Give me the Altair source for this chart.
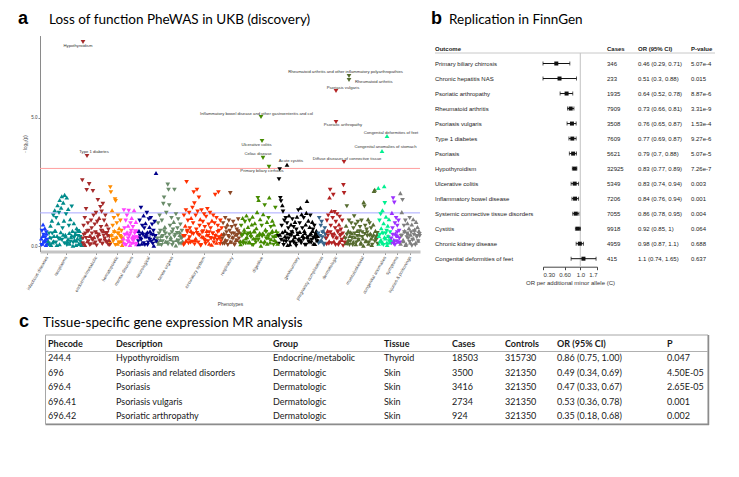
import altair as alt
import pandas as pd

W, H = 723, 461

# ---------------- panel a : PheWAS manhattan ----------------
categories = ["infectious diseases", "neoplasms", "endocrine/metabolic", "hematopoietic",
              "mental disorders", "neurological", "sense organs", "circulatory system",
              "respiratory", "digestive", "genitourinary", "pregnancy complications",
              "dermatologic", "musculoskeletal", "congenital anomalies", "symptoms",
              "injuries & poisonings"]
cat_colors = ["#1a3cff", "#008b8b", "#a52a2a", "#ff8c00", "#ff40ff", "#00008b", "#698b69",
              "#ff3000", "#8b4726", "#458b00", "#000000", "#36648b", "#b22222", "#556b2f",
              "#00f090", "#9b30ff", "#7f7f7f"]
# phenotype index range of each category and position of its axis label
cat_start = [1, 8, 42, 70, 83, 98, 117, 143, 182, 200, 238, 278, 286, 305, 338, 351, 360]
cat_end = [8, 42, 70, 83, 98, 117, 143, 182, 200, 238, 278, 286, 305, 338, 351, 360, 380]
cat_tick = [7, 26, 56, 77, 92, 109, 132, 164, 192, 222, 258, 282, 296, 323, 345, 357, 370]

# -log10(p) of each phenotype in index order; u = OR>1 (triangle up), d = OR<1 (down)
cat_points = [
    "0.30u 0.60d 0.10u 0.85u 0.45d 0.20u 0.70u 0.35d 0.05u 0.50u 0.25d 0.15u",
    "0.20u 0.50d 0.10u 0.80u 0.30d 1.00u 0.15u 1.20d 0.40u 1.40u 0.60u 1.10d 0.05u 1.60u 0.90u 1.30d "
    "1.80u 0.30u 1.50u 1.95u 0.70d 1.70u 1.00u 2.00u 0.45u 1.25d 1.90u 0.20u 1.45u 0.80d 0.10u 1.05u "
    "0.35u 1.55d 0.60u 0.15d 0.90u 0.25u 0.50d 0.05u 0.70u 0.30u 0.40d 0.10u 0.60u 0.20d 0.35u 0.05u",
    "2.57d 0.30d 0.80d 0.10u 1.10d 0.50d 1.45d 2.19d 0.20u 0.90d 0.60d 2.42d 0.05d 0.40u 1.00d 0.70d "
    "0.25d 2.15d 1.20d 0.35u 0.85d 0.15d 1.30d 0.55u 0.95d 1.80d 0.45d 1.10u 0.20d 1.53d 0.75d 1.35d "
    "0.10d 1.65d 0.60u 1.00d 0.30d 1.20d 0.50d 0.85u 0.15d 0.40d 0.65d 0.25u 0.05d",
    "2.30d 2.10d 0.40d 1.40u 0.80d 0.20d 1.10d 0.60u 1.83d 1.76d 0.30d 0.90d 0.10u 1.20d 0.50d 0.70u "
    "0.15d 1.00d 0.35d 0.60d 0.05u 0.25d",
    "0.30u 1.40d 0.70d 0.10u 1.00d 0.50u 1.20d 0.20d 0.80u 1.38d 0.40d 0.05u 0.90d 0.60d 1.10u 0.25d "
    "0.75d 0.15u 1.40u 0.50d 0.35d 0.95u 0.10d 0.60u 0.30d",
    "0.20d 0.60u 1.00d 0.30d 1.50d 0.10u 0.80d 0.45d 1.20u 0.70d 0.05d 0.90u 0.35d 1.30d 0.55u 0.15d "
    "1.05d 0.75u 0.25d 1.10d 0.50u 0.85d 0.10d 0.60d 0.30u 0.95d 0.40d 2.85u 0.20d",
    "0.30d 0.90d 0.10u 1.20d 0.60d 0.40u 1.00d 0.20d 1.65d 1.90d 0.75u 0.50d 1.30d 0.15d 2.40d 2.20d "
    "1.60d 0.80d 0.35u 1.10d 0.05d 0.65d 0.95u 2.20d 0.45d 1.25d 0.25u 0.70d 1.05d 0.10d 0.55u 0.85d "
    "0.30d 0.60d 0.20u",
    "0.40d 1.20d 0.10d 0.80u 1.40d 2.50d 0.60d 1.00d 0.30u 1.30d 0.70d 0.15d 1.10u 0.50d 1.50d 0.90d "
    "2.10d 1.67d 0.25u 1.20d 0.65d 2.20d 1.35d 0.45d 1.90d 0.80d 1.05u 0.05d 1.40d 0.55d 0.95d 0.35u "
    "1.25d 0.75d 0.20d 1.15d 0.60u 1.45d 0.40d 0.85d 0.10u 1.30d 0.70d 0.30d 1.00u 0.50d 1.20d 0.15d "
    "0.90d 2.00d 0.45u 1.10d 0.25d 0.80d 2.10d 0.60d 0.35u 1.00d 0.20d 0.70d",
    "0.30d 0.90d 0.50u 0.10d 1.10d 0.70d 0.20d 0.85u 0.40d 1.00d 0.60d 2.07d 0.15d 0.75d 0.35u 0.95d "
    "0.50d 0.05d 0.80d 0.25u 0.65d 0.45d 1.05d 0.30d 0.55u",
    "0.20u 0.80d 0.50u 1.10u 0.10d 0.65u 0.95d 0.30u 1.20u 0.45d 0.75u 0.15u 1.00d 0.55u 0.35d 0.85u "
    "1.15u 0.05d 0.60u 0.90u 0.25d 0.70u 1.33u 1.88d 1.80u 0.40d 1.05u 0.20u 0.80d 0.50u 1.25u 0.10d "
    "1.60d 0.65u 0.30d 0.95u 0.45u 1.10d 1.90u 0.15u 0.75d 0.55u 1.00u 0.35d 0.85u 0.25u 1.50d 0.60u "
    "0.40d 0.10u",
    "0.40d 2.61d 3.00d 1.88d 1.75d 0.80d 1.60u 1.35d 0.20d 1.00d 0.60u 1.10d 0.30d 0.90d 0.05u 0.70d "
    "1.20u 0.45d 0.15d 0.85u 0.55d 1.05d 0.25u 0.75d 0.35d 0.95u 0.10d 0.65d 1.15u 0.50d 1.40d 0.30u "
    "0.90d 1.50u 0.20d 1.25u 0.70d 0.40u 1.10d 0.60u 0.05d 0.85u 1.30u 1.76u 0.35d 1.00u 0.15d 0.75u "
    "1.20d 0.50u 0.25d 0.95u 0.65d 0.10u 0.80d 0.45u 0.30d 0.60u 0.20d 0.40u",
    "0.50d 1.10d 0.20u 0.80d 0.95d 0.35d 0.60u 0.10d 0.70d 0.30d",
    "0.30d 1.00d 0.60u 1.20d 0.10d 1.90u 2.20d 0.80d 1.37u 0.45d 1.10d 2.00d 0.20u 1.33d 0.70d 0.95d "
    "0.35u 1.25d 0.55d 0.05d 0.85u 1.15d 0.40d 0.65d 0.25u 1.00d 0.50d 2.38d 2.07d 0.15d",
    "0.30d 0.80u 1.56d 0.10d 0.60u 1.00d 0.40u 0.20d 0.90d 0.50u 0.05d 0.70d 1.17d 0.35u 0.85d 0.15d "
    "0.60u 0.95d 0.25d 0.45u 0.75d 0.10u 1.00d 0.55d 0.30u 1.72u 1.55d 0.80d 0.20u 0.65d 0.40d 1.05u "
    "0.15d 0.90d 0.50u 0.70d 0.05u 0.35d 0.85u 2.15u 2.20u 0.60u 0.25d 0.45u 0.10d",
    "2.27u 0.40u 1.00d 0.20u 1.25d 0.70u 0.10d 1.40u 0.50d 0.90u 2.34u 1.68d 0.30u 1.15u 0.60d 0.05u "
    "0.80u 0.35d 1.05u 0.15u 0.55d 0.25u",
    "0.30d 1.30u 0.70d 1.87d 0.10d 1.70d 0.90d 0.50u 1.10d 0.20d 0.80d 0.40u 1.00d 0.60d 0.15d",
    "2.07u 0.40d 1.33u 1.80d 0.20u 0.80d 0.60u 1.00d 0.10u 0.50d 0.90u 0.30d 0.70u 1.10d 0.15u 0.55d "
    "0.85u 0.25d 1.05u 0.45d 0.65u 0.05d 0.95u 0.35d 0.75u 0.20d 0.60u 0.40d",
]

# the many weakly associated phenotypes at the bottom of every category
cat_carpet = [
    "0.05d 0.40u 0.15d 0.25u 0.55d 0.10u",
    "0.10d 0.35u 0.05u 0.50d 0.20u 0.60u 0.15d 0.40u 0.30d 0.08u 0.55u 0.25d 0.45u 0.12d 0.38u 0.05d "
    "0.28u 0.52u 0.18d 0.42u 0.02u 0.33d 0.48u 0.22u 0.58d 0.10u 0.36d 0.15u",
    "0.12d 0.45d 0.05u 0.32d 0.58d 0.20d 0.40u 0.08d 0.50d 0.28d 0.15u 0.55d 0.03d 0.35d 0.48u 0.22d "
    "0.60d 0.10d 0.42d 0.30u 0.18d 0.52d 0.06d 0.38d",
    "0.10d 0.45u 0.25d 0.55d 0.05d 0.35u 0.50d 0.15d 0.40d 0.20u 0.30d",
    "0.15u 0.45d 0.05d 0.55u 0.30d 0.20u 0.50d 0.10d 0.40u 0.25d 0.58d 0.08u 0.35d",
    "0.08u 0.42d 0.25d 0.55u 0.12d 0.35d 0.50u 0.05d 0.30d 0.58u 0.18d 0.45d 0.02u 0.38d 0.22u",
    "0.12d 0.50d 0.25u 0.05d 0.40d 0.58d 0.18u 0.33d 0.08d 0.46d 0.28u 0.55d 0.15d 0.38d 0.03u 0.52d "
    "0.22d 0.44u 0.10d 0.35d",
    "0.05d 0.40d 0.22u 0.55d 0.12d 0.35d 0.60u 0.18d 0.48d 0.08d 0.30u 0.52d 0.15d 0.42d 0.02d 0.38u "
    "0.58d 0.25d 0.10d 0.45u 0.20d 0.55d 0.32d 0.06u 0.50d 0.28d 0.40d 0.14u 0.56d 0.35d 0.09d 0.46u",
    "0.10d 0.42d 0.25u 0.55d 0.05d 0.35d 0.18u 0.50d 0.30d 0.08d 0.45u 0.22d 0.58d 0.15d",
    "0.08u 0.40d 0.22u 0.55u 0.12d 0.35u 0.50d 0.18u 0.45u 0.05d 0.30u 0.58u 0.15d 0.42u 0.25d 0.52u "
    "0.02u 0.38d 0.48u 0.20u 0.56d 0.10u 0.33u 0.46d 0.28u 0.60u 0.06d 0.40u 0.18u 0.50d",
    "0.10d 0.45u 0.25d 0.55u 0.05d 0.38u 0.18d 0.50u 0.30d 0.08u 0.42d 0.58u 0.15d 0.35u 0.02d 0.48u "
    "0.22d 0.56u 0.12d 0.40u 0.28d 0.52u 0.06d 0.36u 0.20d 0.46u 0.14d 0.60u 0.32d 0.09u 0.44d 0.24u",
    "0.12d 0.40d 0.25u 0.55d 0.05d 0.45d",
    "0.08d 0.42d 0.20u 0.55d 0.12d 0.35d 0.50u 0.05d 0.30d 0.58d 0.18u 0.45d 0.25d 0.02d 0.38u",
    "0.12u 0.45d 0.25u 0.05d 0.55u 0.32d 0.18u 0.50d 0.08u 0.40d 0.28u 0.58d 0.15u 0.36d 0.02u 0.48d "
    "0.22u 0.54d 0.10u 0.42d 0.30u 0.06d 0.46u 0.20d 0.38u 0.52d",
    "0.10u 0.45d 0.25u 0.55u 0.05d 0.35u 0.50d 0.15u 0.40u 0.20d 0.30u",
    "0.12d 0.45d 0.25u 0.05d 0.38d 0.55d 0.18u 0.30d",
    "0.10u 0.42d 0.25u 0.55d 0.05u 0.35d 0.50u 0.18d 0.45u 0.02d 0.30u 0.58d 0.14u 0.40d 0.22u 0.48d",
]

hit_names = ["Hypothyroidism", "Type 1 diabetes",
             "Inflammatory bowel disease and other gastroenteritis and col",
             "Ulcerative colitis", "Celiac disease", "Primary biliary cirrhosis", "Acute cystitis",
             "Psoriasis vulgaris", "Psoriatic arthropathy", "Diffuse diseases of connective tissue",
             "Rheumatoid arthritis and other inflammatory polyarthropathies", "Rheumatoid arthritis",
             "Congenital deformities of feet", "Congenital anomalies of stomach"]
hit_cat = ["endocrine/metabolic", "endocrine/metabolic", "digestive", "digestive", "digestive",
           "digestive", "genitourinary", "dermatologic", "dermatologic", "dermatologic",
           "musculoskeletal", "musculoskeletal", "congenital anomalies", "congenital anomalies"]
hit_pos = [43, 47, 221, 222, 223, 229, 247, 296, 296, 304, 309, 309, 347, 342]
hit_logp = [7.95, 3.51, 5.03, 4.10, 3.44, 3.09, 3.17, 6.04, 4.84, 3.28, 6.63, 6.47, 4.29, 3.71]
hit_dir = ["d", "d", "d", "d", "d", "d", "u", "d", "d", "d", "d", "d", "u", "u"]

bonferroni_line = 3.03
nominal_line = 1.30

# label placement (dx, dy in px, align)
label_style = {
    "Hypothyroidism": (-5, 4, "center"),
    "Type 1 diabetes": (7, -4, "center"),
    "Inflammatory bowel disease and other gastroenteritis and col": (-4.5, -3.5, "center"),
    "Ulcerative colitis": (-5.5, 4, "center"),
    "Celiac disease": (-5, -3.5, "center"),
    "Primary biliary cirrhosis": (-7, 4, "center"),
    "Acute cystitis": (4, -3.5, "center"),
    "Psoriasis vulgaris": (7, -3.5, "center"),
    "Psoriatic arthropathy": (7, 3.5, "center"),
    "Diffuse diseases of connective tissue": (3, -3.5, "center"),
    "Rheumatoid arthritis and other inflammatory polyarthropathies": (-3.5, -3.5, "center"),
    "Rheumatoid arthritis": (6, 1.5, "left"),
    "Congenital deformities of feet": (4, -3.5, "center"),
    "Congenital anomalies of stomach": (3.5, -3.5, "center"),
}

rows = []
for series in (cat_carpet, cat_points):
    for cat, lo, hi, s in zip(categories, cat_start, cat_end, series):
        toks = s.split()
        n = len(toks)
        for i, t in enumerate(toks):
            rows.append({"pos": lo + (i + 0.5) * (hi - lo) / n, "logp": float(t[:-1]),
                         "dir": t[-1], "cat": cat, "name": ""})
for nm, c, p, lp, d in zip(hit_names, hit_cat, hit_pos, hit_logp, hit_dir):
    rows.append({"pos": p, "logp": lp, "dir": d, "cat": c, "name": nm})
man_df = pd.DataFrame(rows)

tick_lookup = "{" + ",".join(f"'{v}':'{c}'" for v, c in zip(cat_tick, categories)) + "}"

man_x = alt.X("pos:Q",
              scale=alt.Scale(domain=[0, 380], range=[32, 412], nice=False, zero=False),
              axis=alt.Axis(values=cat_tick, labelExpr=tick_lookup + "[''+datum.value]",
                            orient="bottom", offset=243.5 - H, domainColor="#c4c4c4",
                            domainWidth=3, tickColor="#999999", tickSize=3, labelAngle=-60,
                            labelAlign="right", labelBaseline="middle", labelFontSize=4.5,
                            labelFont="Liberation Sans", labelColor="#444444", labelPadding=2,
                            labelOverlap=False, grid=False, title="Phenotypes",
                            titleFontSize=4.8, titleFontWeight="normal",
                            titleFont="Liberation Sans", titleColor="#444444", titleY=50))
man_y = alt.Y("logp:Q",
              scale=alt.Scale(domain=[-0.2, 8.2], range=[243.44, 27.56], nice=False, zero=False),
              axis=alt.Axis(values=[0, 5], orient="left", offset=-32, domainColor="#8a8a8a",
                            tickColor="#8a8a8a", tickSize=2, labelFontSize=4.5,
                            labelFont="Liberation Sans", labelColor="#444444", labelPadding=1,
                            grid=False, title="- log\u2081\u2080(p)", titleFontSize=4.5,
                            titleFontWeight="normal", titleFont="Liberation Sans",
                            titleColor="#444444", titlePadding=3))

base_a = alt.Chart(man_df)
thr_df = pd.DataFrame({"thr": [bonferroni_line, nominal_line]})
rule_bonf = alt.Chart(thr_df).transform_filter(alt.datum.thr > 2).mark_rule(
    color="#ff9e9e", strokeWidth=1).encode(
    y=alt.Y("thr:Q"), x=alt.datum(0), x2=alt.datum(380))
rule_nom = alt.Chart(thr_df).transform_filter(alt.datum.thr < 2).mark_rule(
    color="#a8a8ff", strokeWidth=1).encode(
    y=alt.Y("thr:Q"), x=alt.datum(0), x2=alt.datum(380))

points = base_a.mark_point(filled=True, size=22, opacity=1, strokeWidth=0).encode(
    x=man_x, y=man_y,
    color=alt.Color("cat:N", scale=alt.Scale(domain=categories, range=cat_colors), legend=None),
    shape=alt.Shape("dir:N", scale=alt.Scale(domain=["u", "d"],
                                             range=["triangle-up", "triangle-down"]), legend=None),
)

label_layers = []
for nm in hit_names:
    dx, dy, al = label_style[nm]
    label_layers.append(
        base_a.transform_filter(alt.datum.name == nm).mark_text(
            dx=dx, dy=dy, align=al, baseline="middle", fontSize=4.2,
            font="Liberation Sans", color="#333333").encode(
            x=alt.X("pos:Q"), y=alt.Y("logp:Q"), text="name:N"))

group_a = alt.layer(rule_nom, rule_bonf, points, *label_layers)

# ---------------- panel b : FinnGen forest plot ----------------
outcomes = ["Primary biliary chirrosis", "Chronic hepatitis NAS", "Psoriatic arthropathy",
            "Rheumatoid arthritis", "Psoriasis vulgaris", "Type 1 diabetes", "Psoriasis",
            "Hypothyroidism", "Ulcerative colitis", "Inflammatory bowel disease",
            "Systemic connective tissue disorders", "Cystitis", "Chronic kidney disease",
            "Congenital deformities of feet"]
fg_cases = ["346", "233", "1935", "7909", "3508", "7609", "5621", "32925", "5349", "7206",
            "7055", "9918", "4959", "415"]
fg_or = [0.46, 0.51, 0.64, 0.73, 0.76, 0.77, 0.79, 0.83, 0.83, 0.84, 0.86, 0.92, 0.98, 1.1]
fg_lo = [0.29, 0.3, 0.52, 0.66, 0.65, 0.69, 0.7, 0.77, 0.74, 0.76, 0.78, 0.85, 0.87, 0.74]
fg_hi = [0.71, 0.88, 0.78, 0.81, 0.87, 0.87, 0.88, 0.89, 0.94, 0.94, 0.95, 1.0, 1.1, 1.65]
fg_or_txt = ["0.46 (0.29, 0.71)", "0.51 (0.3, 0.88)", "0.64 (0.52, 0.78)", "0.73 (0.66, 0.81)",
             "0.76 (0.65, 0.87)", "0.77 (0.69, 0.87)", "0.79 (0.7, 0.88)", "0.83 (0.77, 0.89)",
             "0.83 (0.74, 0.94)", "0.84 (0.76, 0.94)", "0.86 (0.78, 0.95)", "0.92 (0.85, 1)",
             "0.98 (0.87, 1.1)", "1.1 (0.74, 1.65)"]
fg_p = ["5.07e-4", "0.015", "8.87e-6", "3.31e-9", "1.53e-4", "9.27e-6", "5.07e-5", "7.26e-7",
        "0.003", "0.001", "0.004", "0.064", "0.688", "0.637"]
fg_headers = ["Outcome", "Cases", "OR (95% CI)", "P-value"]
or_ticks = [0.3, 0.6, 1.0, 1.7]
or_tick_labels = ["0.30", "0.60", "1.0", "1.7"]

HDR = "__header__"
fg_df = pd.DataFrame({"outcome": outcomes, "cases": fg_cases, "or": fg_or, "lo": fg_lo,
                      "hi": fg_hi, "or_txt": fg_or_txt, "p": fg_p})
hdr_df = pd.DataFrame({"outcome": [HDR] * 4, "col": fg_headers})

fy = alt.Y("outcome:N", scale=alt.Scale(type="point", domain=[HDR] + outcomes,
                                        range=[40.5, 250.7], padding=0), axis=None)
fx_scale = alt.Scale(type="log", domain=[0.3, 1.7], range=[535, 589], nice=False, clamp=True)
fx_axis = alt.Axis(values=or_ticks,
                   labelExpr=str(or_tick_labels) + "[indexof(" + str(or_ticks) + ", datum.value)]",
                   orient="bottom", offset=258.7 - H, domainColor="#444444",
                   tickColor="#444444", tickSize=3, labelFontSize=6, labelFont="Liberation Sans",
                   labelColor="#333333", labelPadding=2, grid=False,
                   title="OR per additional minor allele (C)", titleFontSize=6,
                   titleFontWeight="normal", titleFont="Liberation Sans", titleColor="#333333",
                   titlePadding=2)

base_b = alt.Chart(fg_df)
ref_line = base_b.mark_rule(color="#cfcfcf", strokeWidth=1).encode(
    x=alt.datum(1, scale=fx_scale), y=alt.value(45), y2=alt.value(258.7))
whisk = base_b.mark_rule(color="#111111", strokeWidth=1).encode(
    x=alt.X("lo:Q", scale=fx_scale, axis=fx_axis), x2="hi:Q", y=fy)
cap_lo = base_b.mark_tick(color="#111111", thickness=1, size=4).encode(x="lo:Q", y=fy)
cap_hi = base_b.mark_tick(color="#111111", thickness=1, size=4).encode(x="hi:Q", y=fy)
sq = base_b.mark_square(color="#111111", size=16, opacity=1).encode(x="or:Q", y=fy)
hdr_line = alt.Chart(pd.DataFrame({"k": [0]})).mark_rule(color="#c8c8c8").encode(
    x=alt.value(427), x2=alt.value(707), y=alt.value(45))

b_font = dict(font="Liberation Sans", fontSize=6, color="#222222", align="left",
              baseline="middle")
col_x_b = [427, 599, 630, 683]
b_text = []
for field, xx in zip(["outcome", "cases", "or_txt", "p"], col_x_b):
    b_text.append(base_b.mark_text(**b_font).encode(x=alt.value(xx), y=fy, text=f"{field}:N"))
for h, xx in zip(fg_headers, col_x_b):
    b_text.append(alt.Chart(hdr_df).transform_filter(alt.datum.col == h).mark_text(
        fontWeight="bold", **b_font).encode(x=alt.value(xx), y=fy, text="col:N"))

group_b = alt.layer(ref_line, hdr_line, whisk, cap_lo, cap_hi, sq, *b_text)

# ---------------- panel c : MR table ----------------
c_headers = ["Phecode", "Description", "Group", "Tissue", "Cases", "Controls", "OR (95% CI)", "P"]
c_phecode = ["244.4", "696", "696.4", "696.41", "696.42"]
c_desc = ["Hypothyroidism", "Psoriasis and related disorders", "Psoriasis", "Psoriasis vulgaris",
          "Psoriatic arthropathy"]
c_group = ["Endocrine/metabolic", "Dermatologic", "Dermatologic", "Dermatologic", "Dermatologic"]
c_tissue = ["Thyroid", "Skin", "Skin", "Skin", "Skin"]
c_cases = ["18503", "3500", "3416", "2734", "924"]
c_controls = ["315730", "321350", "321350", "321350", "321350"]
c_or = ["0.86 (0.75, 1.00)", "0.49 (0.34, 0.69)", "0.47 (0.33, 0.67)", "0.53 (0.36, 0.78)",
        "0.35 (0.18, 0.68)"]
c_p = ["0.047", "4.50E-05", "2.65E-05", "0.001", "0.002"]

c_cols = [c_phecode, c_desc, c_group, c_tissue, c_cases, c_controls, c_or, c_p]
c_rows = []
for hname, vals in zip(c_headers, c_cols):
    c_rows.append({"row": "hdr", "col": hname, "txt": hname, "bold": 1})
    for i, v in enumerate(vals):
        c_rows.append({"row": f"r{i}", "col": hname, "txt": v, "bold": 0})
c_df = pd.DataFrame(c_rows)

cy = alt.Y("row:N", scale=alt.Scale(type="point", domain=["hdr", "r0", "r1", "r2", "r3", "r4"],
                                    range=[336, 408], padding=0), axis=None)
col_x_c = [40, 108, 265, 376, 444, 497, 549, 659]
c_text = []
for hname, xx in zip(c_headers, col_x_c):
    for b in (0, 1):
        c_text.append(alt.Chart(c_df).transform_filter(
            (alt.datum.col == hname) & (alt.datum.bold == b)).mark_text(
            font="Lato", fontSize=9, color="#1a1a1a", align="left", baseline="middle",
            fontWeight="bold" if b else "normal").encode(x=alt.value(xx), y=cy, text="txt:N"))

box_df = pd.DataFrame({"k": [0]})
box = alt.Chart(box_df).mark_rect(fill=None, stroke="#a6a6a6", strokeWidth=1).encode(
    x=alt.value(37.5), x2=alt.value(700), y=alt.value(327), y2=alt.value(416))
shadow_r = alt.Chart(box_df).mark_rule(color="#8c8c8c", strokeWidth=1.5).encode(
    x=alt.value(700.5), y=alt.value(327), y2=alt.value(417))
shadow_b = alt.Chart(box_df).mark_rule(color="#8c8c8c", strokeWidth=1.5).encode(
    x=alt.value(37.5), x2=alt.value(701), y=alt.value(416.5))
hdr_sep = alt.Chart(box_df).mark_rule(color="#b0b0b0", strokeWidth=1).encode(
    x=alt.value(37.5), x2=alt.value(700), y=alt.value(343.5))

group_c = alt.layer(box, shadow_r, shadow_b, hdr_sep, *c_text)

# ---------------- panel titles ----------------
def txt(s, x, y, **kw):
    return alt.Chart(pd.DataFrame({"t": [s]})).mark_text(
        align="left", baseline="alphabetic", **kw).encode(
        x=alt.value(x), y=alt.value(y), text="t:N")

letter = dict(font="Liberation Sans", fontSize=18, fontWeight="bold", color="#000000")
ttl = dict(font="Lato", fontSize=13.5, color="#000000")
titles = [
    txt("a", 10, 15.5, **letter),
    txt("Loss of function PheWAS in UKB (discovery)", 41, 15.5, **ttl),
    txt("b", 423, 15.5, **letter),
    txt("Replication in FinnGen", 441, 15.5, **ttl),
    txt("c", 11, 319, **letter),
    txt("Tissue-specific gene expression MR analysis", 35, 319, **ttl),
]

chart = alt.layer(*titles, group_a, group_b, group_c).resolve_scale(
    x="independent", y="independent", color="independent", shape="independent"
).properties(width=W, height=H, autosize="none", padding=0, background="white"
).configure_view(stroke=None)

chart.save("out.html", embed_options={"renderer": "svg", "actions": False})
